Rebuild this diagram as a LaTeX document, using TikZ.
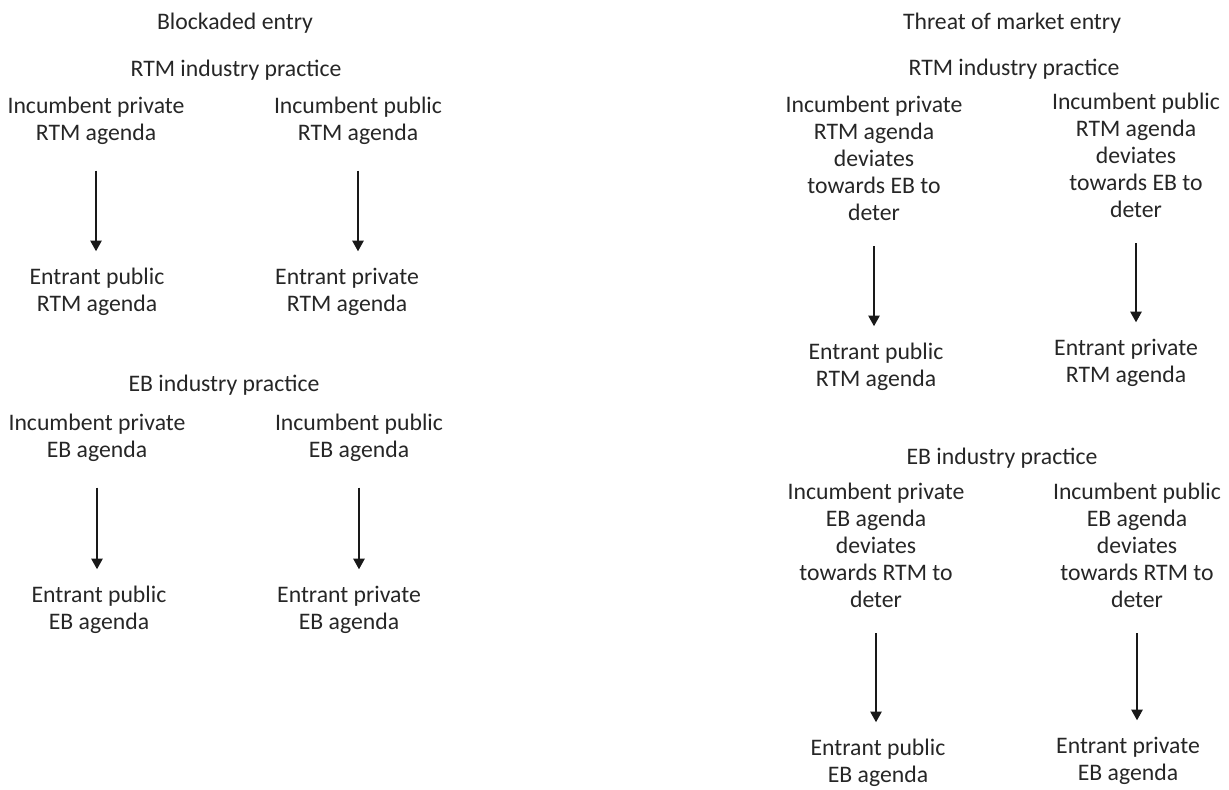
\documentclass[tikz,border=0pt]{standalone}
\usepackage{fontspec}
\setmainfont{Carlito}
\usetikzlibrary{arrows.meta,positioning}

\begin{document}
\begin{tikzpicture}[
  x=0.02cm, y=-0.02cm,
  txt/.style={align=center, inner sep=0pt, text=black!85, font=\fontsize{13.5}{15.4}\selectfont},
  arrow/.style={-{Triangle[width=6.5pt,length=6pt]}, line width=0.6pt, black!90,
    shorten <=14.5pt, shorten >=9.5pt}
]
\useasboundingbox (0,0) rectangle (1229,789);
% blockaded entry
\node[txt] (title1) at (235,23) {Blockaded entry};
\node[txt] (rtm1) at (236,70) {RTM industry practice};
\node[txt] (ipr1) at (96,121) {Incumbent private\\RTM agenda};
\node[txt] (ipu1) at (358,121) {Incumbent public\\RTM agenda};
\node[txt] (epu1) at (97,292) {Entrant public\\RTM agenda};
\node[txt] (epr1) at (347,292) {Entrant private\\RTM agenda};
\node[txt] (eb1) at (224,385) {EB industry practice};
\node[txt] (ipr2) at (97,438) {Incumbent private\\EB agenda};
\node[txt] (ipu2) at (359,438) {Incumbent public\\EB agenda};
\node[txt] (epu2) at (99,610) {Entrant public\\EB agenda};
\node[txt] (epr2) at (349,610) {Entrant private\\EB agenda};
\draw[arrow] (ipr1.south) -- (ipr1.south |- epu1.north);
\draw[arrow] (ipu1.south) -- (ipu1.south |- epr1.north);
\draw[arrow] (ipr2.south) -- (ipr2.south |- epu2.north);
\draw[arrow] (ipu2.south) -- (ipu2.south |- epr2.north);
% threat of entry
\node[txt] (title2) at (1012,23) {Threat of market entry};
\node[txt] (rtm2) at (1014,69) {RTM industry practice};
\node[txt] (ipr3) at (874,158) {Incumbent private\\RTM agenda\\deviates\\towards EB to\\deter};
\node[txt] (ipu3) at (1136,155) {Incumbent public\\RTM agenda\\deviates\\towards EB to\\deter};
\node[txt] (epu3) at (876,367) {Entrant public\\RTM agenda};
\node[txt] (epr3) at (1126,363) {Entrant private\\RTM agenda};
\node[txt] (eb2) at (1002,458) {EB industry practice};
\node[txt] (ipr4) at (876,545) {Incumbent private\\EB agenda\\deviates\\towards RTM to\\deter};
\node[txt] (ipu4) at (1137,545) {Incumbent public\\EB agenda\\deviates\\towards RTM to\\deter};
\node[txt] (epu4) at (878,763) {Entrant public\\EB agenda};
\node[txt] (epr4) at (1128,761) {Entrant private\\EB agenda};
\draw[arrow] (ipr3.south) -- (ipr3.south |- epu3.north);
\draw[arrow] (ipu3.south) -- (ipu3.south |- epr3.north);
\draw[arrow] (ipr4.south) -- (ipr4.south |- epu4.north);
\draw[arrow] (ipu4.south) -- (ipu4.south |- epr4.north);
\end{tikzpicture}
\end{document}
